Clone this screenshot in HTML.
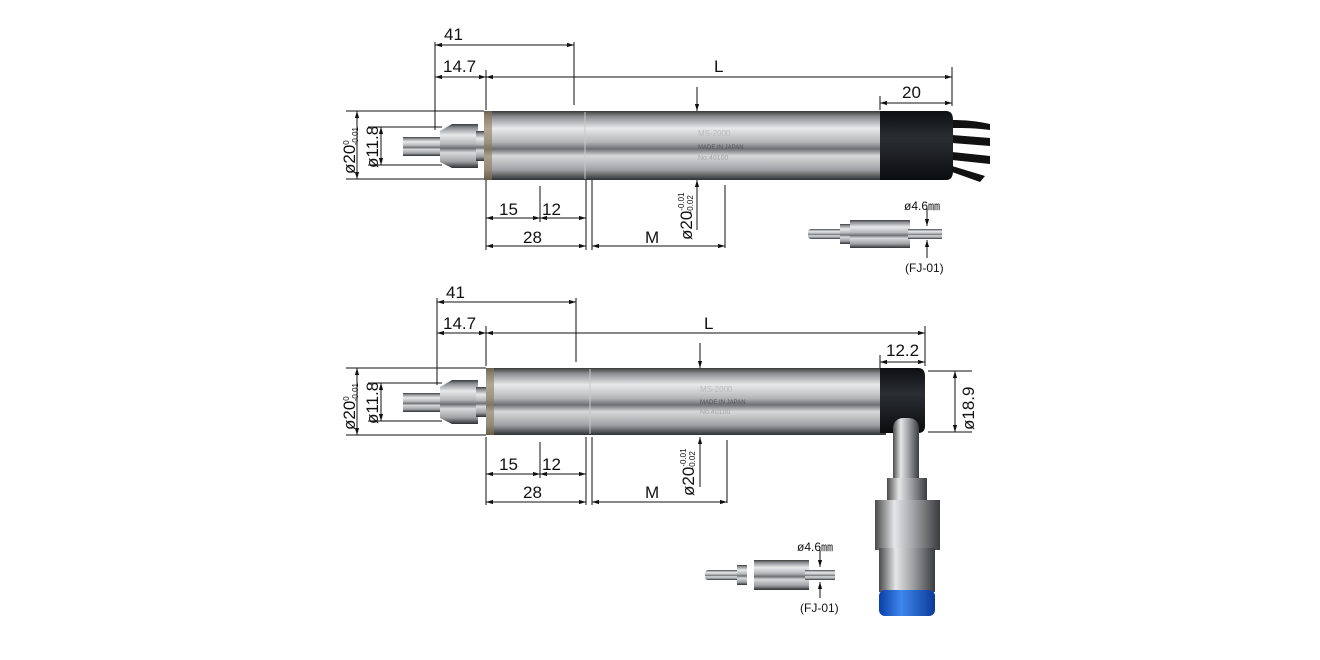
<!DOCTYPE html>
<html><head><style>
html,body{margin:0;padding:0;background:#fff;}
svg{display:block;}
text{font-family:"Liberation Sans",sans-serif;fill:#111;}
</style></head><body>
<svg width="1320" height="660" viewBox="0 0 1320 660" xmlns="http://www.w3.org/2000/svg">
<defs>
<linearGradient id="steel" x1="0" y1="0" x2="0" y2="1">
<stop offset="0" stop-color="#3a3a3a"/><stop offset="0.08" stop-color="#8a8c90"/>
<stop offset="0.25" stop-color="#e8e9ea"/><stop offset="0.45" stop-color="#b4b6b8"/>
<stop offset="0.55" stop-color="#6d6f72"/><stop offset="0.65" stop-color="#d8d9da"/>
<stop offset="0.85" stop-color="#a0a2a5"/><stop offset="1" stop-color="#2f3032"/>
</linearGradient>
<linearGradient id="steelv" x1="0" y1="0" x2="1" y2="0">
<stop offset="0" stop-color="#4a4a4a"/><stop offset="0.3" stop-color="#e5e6e7"/>
<stop offset="0.6" stop-color="#9fa1a4"/><stop offset="1" stop-color="#3a3b3d"/>
</linearGradient>
<linearGradient id="blk" x1="0" y1="0" x2="0" y2="1">
<stop offset="0" stop-color="#0d0f12"/><stop offset="0.4" stop-color="#2a2e33"/><stop offset="1" stop-color="#0b0c0e"/>
</linearGradient>
<linearGradient id="blue" x1="0" y1="0" x2="1" y2="0">
<stop offset="0" stop-color="#0a3fa8"/><stop offset="0.4" stop-color="#3f86ee"/><stop offset="1" stop-color="#0a3a9a"/>
</linearGradient>
<marker id="a" viewBox="0 0 10 10" refX="10" refY="5" markerWidth="7" markerHeight="7" orient="auto-start-reverse"><path d="M0,2 L10,5 L0,8 z" fill="#111"/></marker>
</defs>
<g stroke="#111" stroke-width="1" fill="none">
<line x1="435" y1="45" x2="574" y2="45" marker-start="url(#a)" marker-end="url(#a)"/>
<line x1="435" y1="42" x2="435" y2="130"/><line x1="574" y1="42" x2="574" y2="105"/>
<line x1="435" y1="77" x2="486" y2="77" marker-start="url(#a)" marker-end="url(#a)"/>
<line x1="486" y1="77" x2="952" y2="77" marker-start="url(#a)" marker-end="url(#a)"/>
<line x1="486" y1="70" x2="486" y2="110"/><line x1="952" y1="67" x2="952" y2="106"/>
<line x1="880" y1="103" x2="952" y2="103" marker-start="url(#a)" marker-end="url(#a)"/>
<line x1="880" y1="96" x2="880" y2="110"/>
<line x1="697" y1="87" x2="697" y2="111" marker-end="url(#a)"/>
<line x1="346" y1="111" x2="484" y2="111"/><line x1="346" y1="179" x2="484" y2="179"/>
<line x1="357" y1="111" x2="357" y2="179" marker-start="url(#a)" marker-end="url(#a)"/>
<line x1="368" y1="127" x2="442" y2="127"/><line x1="368" y1="165" x2="442" y2="165"/>
<line x1="381" y1="127" x2="381" y2="165" marker-start="url(#a)" marker-end="url(#a)"/>
<line x1="486" y1="180" x2="486" y2="250"/><line x1="540" y1="186" x2="540" y2="222"/>
<line x1="586" y1="180" x2="586" y2="250"/><line x1="592" y1="180" x2="592" y2="250"/>
<line x1="725" y1="185" x2="725" y2="248"/>
<line x1="486" y1="218" x2="540" y2="218" marker-start="url(#a)" marker-end="url(#a)"/>
<line x1="540" y1="218" x2="586" y2="218" marker-start="url(#a)" marker-end="url(#a)"/>
<line x1="486" y1="246" x2="586" y2="246" marker-start="url(#a)" marker-end="url(#a)"/>
<line x1="592" y1="246" x2="725" y2="246" marker-start="url(#a)" marker-end="url(#a)"/>
<line x1="697" y1="230" x2="697" y2="180" marker-end="url(#a)"/>
<line x1="927" y1="208" x2="927" y2="226" marker-end="url(#a)"/>
<line x1="927" y1="258" x2="927" y2="240" marker-end="url(#a)"/>
<line x1="437" y1="302" x2="576" y2="302" marker-start="url(#a)" marker-end="url(#a)"/>
<line x1="437" y1="298" x2="437" y2="385"/><line x1="576" y1="298" x2="576" y2="362"/>
<line x1="437" y1="333" x2="486" y2="333" marker-start="url(#a)" marker-end="url(#a)"/>
<line x1="486" y1="333" x2="925" y2="333" marker-start="url(#a)" marker-end="url(#a)"/>
<line x1="486" y1="326" x2="486" y2="366"/><line x1="925" y1="326" x2="925" y2="366"/>
<line x1="880" y1="362" x2="925" y2="362" marker-start="url(#a)" marker-end="url(#a)"/>
<line x1="880" y1="355" x2="880" y2="368"/>
<line x1="700" y1="343" x2="700" y2="368" marker-end="url(#a)"/>
<line x1="346" y1="368" x2="486" y2="368"/><line x1="346" y1="435" x2="486" y2="435"/>
<line x1="357" y1="368" x2="357" y2="435" marker-start="url(#a)" marker-end="url(#a)"/>
<line x1="368" y1="383" x2="442" y2="383"/><line x1="368" y1="421" x2="442" y2="421"/>
<line x1="381" y1="383" x2="381" y2="421" marker-start="url(#a)" marker-end="url(#a)"/>
<line x1="928" y1="371" x2="972" y2="371"/><line x1="928" y1="432" x2="972" y2="432"/>
<line x1="955" y1="371" x2="955" y2="432" marker-start="url(#a)" marker-end="url(#a)"/>
<line x1="486" y1="437" x2="486" y2="505"/><line x1="540" y1="442" x2="540" y2="478"/>
<line x1="586" y1="437" x2="586" y2="505"/><line x1="592" y1="437" x2="592" y2="505"/>
<line x1="727" y1="440" x2="727" y2="503"/>
<line x1="486" y1="474" x2="540" y2="474" marker-start="url(#a)" marker-end="url(#a)"/>
<line x1="540" y1="474" x2="586" y2="474" marker-start="url(#a)" marker-end="url(#a)"/>
<line x1="486" y1="502" x2="586" y2="502" marker-start="url(#a)" marker-end="url(#a)"/>
<line x1="592" y1="502" x2="727" y2="502" marker-start="url(#a)" marker-end="url(#a)"/>
<line x1="700" y1="487" x2="700" y2="437" marker-end="url(#a)"/>
<line x1="820" y1="550" x2="820" y2="567" marker-end="url(#a)"/>
<line x1="820" y1="598" x2="820" y2="582" marker-end="url(#a)"/>
</g>
<g>
<path d="M952,120 C970,120 980,122 990,124 L990,130 C975,128 965,128 952,128 Z M952,135 L990,138 L990,146 L952,143 Z M952,152 L990,156 L990,164 L952,160 Z M952,166 L985,176 L980,182 L952,172 Z" fill="#111"/>
<rect x="403" y="137" width="40" height="19" fill="url(#steel)"/>
<path d="M440,131 L452,124 L478,124 L478,168 L452,168 L440,162 Z" fill="url(#steel)"/>
<rect x="476" y="131" width="10" height="30" fill="url(#steel)"/>
<rect x="484" y="111" width="400" height="69" fill="url(#steel)"/>
<rect x="484" y="111" width="8" height="69" fill="#8a7a5a" opacity="0.6"/>
<line x1="585" y1="112" x2="585" y2="179" stroke="#c8c8c8"/>
<path d="M880,111 L946,111 Q953,111 953,120 L953,171 Q953,180 946,180 L880,180 Z" fill="url(#blk)"/>
<text x="698" y="136" font-size="8" style="fill:#bbb">MS-2000</text>
<text x="698" y="149" font-size="6" style="fill:#555">MADE IN JAPAN</text>
<text x="698" y="160" font-size="7" style="fill:#aaa">No.40100</text>
</g>
<g>
<rect x="808" y="229" width="38" height="10" rx="3" fill="url(#steel)"/>
<rect x="840" y="224" width="10" height="20" fill="url(#steel)"/>
<rect x="850" y="220" width="60" height="28" fill="url(#steel)"/>
<rect x="908" y="229" width="34" height="10" fill="url(#steel)"/>
</g>
<g>
<rect x="403" y="393" width="40" height="19" fill="url(#steel)"/>
<path d="M440,387 L452,380 L478,380 L478,424 L452,424 L440,418 Z" fill="url(#steel)"/>
<rect x="476" y="387" width="10" height="30" fill="url(#steel)"/>
<rect x="486" y="368" width="400" height="67" fill="url(#steel)"/>
<rect x="486" y="368" width="8" height="67" fill="#8a7a5a" opacity="0.6"/>
<line x1="590" y1="369" x2="590" y2="434" stroke="#c8c8c8"/>
<path d="M880,368 L918,368 Q925,368 925,376 L925,426 Q925,433 918,433 L880,433 Z" fill="url(#blk)"/>
<rect x="893" y="418" width="26" height="72" rx="10" fill="url(#steelv)"/>
<rect x="887" y="478" width="40" height="22" fill="url(#steelv)"/>
<rect x="875" y="500" width="65" height="50" fill="url(#steelv)"/>
<rect x="879" y="548" width="56" height="44" fill="url(#steelv)"/>
<rect x="879" y="590" width="56" height="26" rx="6" fill="url(#blue)"/>
<text x="700" y="392" font-size="8" style="fill:#bbb">MS-2000</text>
<text x="700" y="404" font-size="6" style="fill:#555">MADE IN JAPAN</text>
<text x="700" y="414" font-size="7" style="fill:#aaa">No.40100</text>
</g>
<g>
<rect x="705" y="570" width="38" height="10" rx="3" fill="url(#steel)"/>
<rect x="737" y="565" width="10" height="20" fill="url(#steel)"/>
<rect x="754" y="560" width="55" height="30" fill="url(#steel)"/>
<rect x="805" y="570" width="30" height="10" fill="url(#steel)"/>
</g>
<g font-size="17">
<text x="444" y="40">41</text><text x="443" y="72">14.7</text><text x="714" y="72">L</text><text x="902" y="98">20</text>
<text x="499" y="215">15</text><text x="542" y="215">12</text><text x="523" y="243">28</text><text x="645" y="243">M</text>
<text x="446" y="298">41</text><text x="443" y="329">14.7</text><text x="704" y="329">L</text><text x="886" y="356">12.2</text>
<text x="499" y="470">15</text><text x="542" y="470">12</text><text x="523" y="498">28</text><text x="645" y="498">M</text>
</g>
<g font-size="17">
<text transform="translate(355,174) rotate(-90)">ø20<tspan font-size="8" dy="-6">0</tspan><tspan font-size="8" dx="-5" dy="9">-0.01</tspan></text>
<text transform="translate(378,168) rotate(-90)">ø11.8</text>
<text transform="translate(692,240) rotate(-90)">ø20<tspan font-size="8" dy="-8">-0.01</tspan><tspan font-size="8" dx="-21" dy="9">-0.02</tspan></text>
<text transform="translate(355,430) rotate(-90)">ø20<tspan font-size="8" dy="-6">0</tspan><tspan font-size="8" dx="-5" dy="9">-0.01</tspan></text>
<text transform="translate(378,424) rotate(-90)">ø11.8</text>
<text transform="translate(694,496) rotate(-90)">ø20<tspan font-size="8" dy="-8">-0.01</tspan><tspan font-size="8" dx="-21" dy="9">-0.02</tspan></text>
<text transform="translate(974,430) rotate(-90)">ø18.9</text>
</g>
<g font-size="12">
<text x="904" y="210">ø4.6㎜</text><text x="905" y="272">(FJ-01)</text>
<text x="797" y="551">ø4.6㎜</text><text x="800" y="612">(FJ-01)</text>
</g>
</svg>
</body></html>
